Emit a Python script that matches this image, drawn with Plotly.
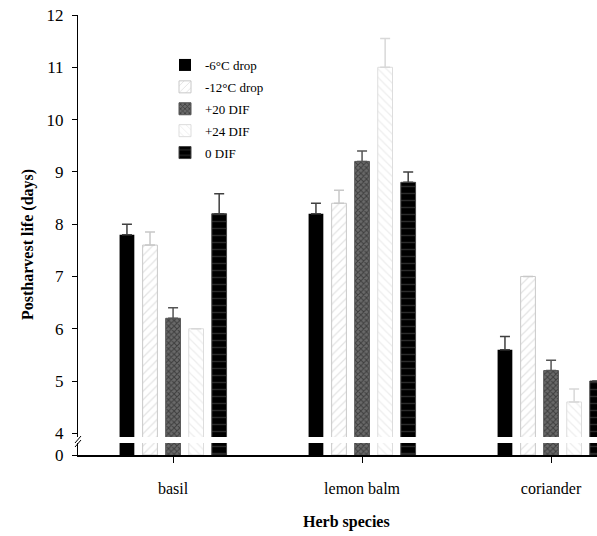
import plotly.graph_objects as go

species = ["basil", "lemon balm", "coriander"]
series_names = ["-6°C drop", "-12°C drop", "+20 DIF", "+24 DIF", "0 DIF"]
values = [
    [7.8, 8.2, 5.6],
    [7.6, 8.4, 7.0],
    [6.2, 9.2, 5.2],
    [6.0, 11.0, 4.6],
    [8.2, 8.8, 5.0],
]
errors = [
    [0.2, 0.2, 0.25],
    [0.25, 0.25, 0.0],
    [0.2, 0.2, 0.2],
    [0.0, 0.55, 0.25],
    [0.38, 0.2, 0.0],
]
upper_ticks = [4, 5, 6, 7, 8, 9, 10, 11, 12]

styles = [
    dict(color="#000000", line=dict(color="#000000", width=0),
         pattern=None, err="#404040"),
    dict(color="#ffffff", line=dict(color="#c8c8c8", width=1),
         pattern=dict(shape="/", fgcolor="#c8c8c8", bgcolor="#ffffff", size=6, solidity=0.2, fillmode="overlay"),
         err="#c8c8c8"),
    dict(color="#5a5a5a", line=dict(color="#555555", width=1),
         pattern=dict(shape="x", fgcolor="#111111", bgcolor="#6a6a6a", size=4, solidity=0.45, fillmode="overlay"),
         err="#555555"),
    dict(color="#ffffff", line=dict(color="#dddddd", width=1),
         pattern=dict(shape="\\", fgcolor="#dcdcdc", bgcolor="#ffffff", size=6, solidity=0.2, fillmode="overlay"),
         err="#d8d8d8"),
    dict(color="#000000", line=dict(color="#444444", width=1),
         pattern=dict(shape="-", fgcolor="#555555", bgcolor="#000000", size=7, solidity=0.2, fillmode="overlay"),
         err="#404040"),
]

FONT = "Liberation Serif"
fig = go.Figure()

for i, name in enumerate(series_names):
    st = styles[i]
    marker = dict(color=st["color"], line=st["line"])
    if st["pattern"] is not None:
        marker["pattern"] = st["pattern"]
    # upper (broken) part
    fig.add_trace(go.Bar(
        x=species, y=values[i], name=name, marker=marker,
        xaxis="x2", yaxis="y2", legendgroup=name, showlegend=True,
        error_y=dict(type="data", array=errors[i], arrayminus=[0] * 3, symmetric=False,
                     color=st["err"], thickness=1.5, width=5),
    ))
    # lower part (near zero)
    fig.add_trace(go.Bar(
        x=species, y=values[i], name=name, marker=marker,
        xaxis="x", yaxis="y", legendgroup=name, showlegend=False,
    ))

W, H = 597, 536
L, R, T, B = 78, 0, 15, 81
pw = W - L - R
ph = H - T - B


def px(xp):
    return (xp - L) / pw


def py(yp):
    return (H - B - yp) / ph


xrange = [-0.503, 2.243]
fig.update_layout(
    width=W, height=H,
    margin=dict(l=L, r=R, t=T, b=B),
    paper_bgcolor="white", plot_bgcolor="white",
    barmode="group", bargap=0.39, bargroupgap=0.36,
    font=dict(family=FONT, color="black", size=16),
    showlegend=True,
    legend=dict(x=px(165), y=py(50), xanchor="left", yanchor="top",
                font=dict(family=FONT, size=13, color="black"),
                bgcolor="rgba(0,0,0,0)", traceorder="grouped", tracegroupgap=2,
                itemwidth=30),
    xaxis=dict(domain=[0, 1], range=xrange, type="category", anchor="y",
               showline=True, linecolor="black", linewidth=1.5,
               ticks="outside", ticklen=6, tickcolor="black", tickwidth=1,
               tickfont=dict(family=FONT, size=16), ticklabelstandoff=12,
               showgrid=False, zeroline=False),
    xaxis2=dict(domain=[0, 1], range=xrange, type="category", anchor="y2",
                matches="x", visible=False, showgrid=False),
    yaxis=dict(domain=[0, py(443)], range=[0, 1], tickvals=[0], ticktext=["0"],
               anchor="x", showline=True, linecolor="black", linewidth=1,
               ticks="outside", ticklen=5, tickcolor="black",
               tickfont=dict(family=FONT, size=17), ticklabelstandoff=5,
               showgrid=False, zeroline=False),
    yaxis2=dict(domain=[py(437), 1], range=[3.93, 12], tickvals=upper_ticks,
                anchor="x2", showline=True, linecolor="black", linewidth=1,
                ticks="outside", ticklen=5, tickcolor="black",
                tickfont=dict(family=FONT, size=17), ticklabelstandoff=5,
                showgrid=False, zeroline=False),
)

# axis-break marks
for dy in (0, 4):
    fig.add_shape(type="line", xref="paper", yref="paper",
                  x0=px(75), y0=py(443 + dy), x1=px(81), y1=py(436 + dy),
                  line=dict(color="black", width=1))

fig.add_annotation(text="<b>Herb species</b>", xref="paper", yref="paper",
                   x=px(347), y=py(522), xanchor="center", yanchor="middle",
                   showarrow=False,
                   font=dict(family=FONT, size=16, color="black"))
fig.add_annotation(text="<b>Postharvest life (days)</b>", xref="paper", yref="paper",
                   x=px(28), y=py(245), xanchor="center", yanchor="middle",
                   showarrow=False, textangle=-90,
                   font=dict(family=FONT, size=16, color="black"))

fig.write_html("out.html")
